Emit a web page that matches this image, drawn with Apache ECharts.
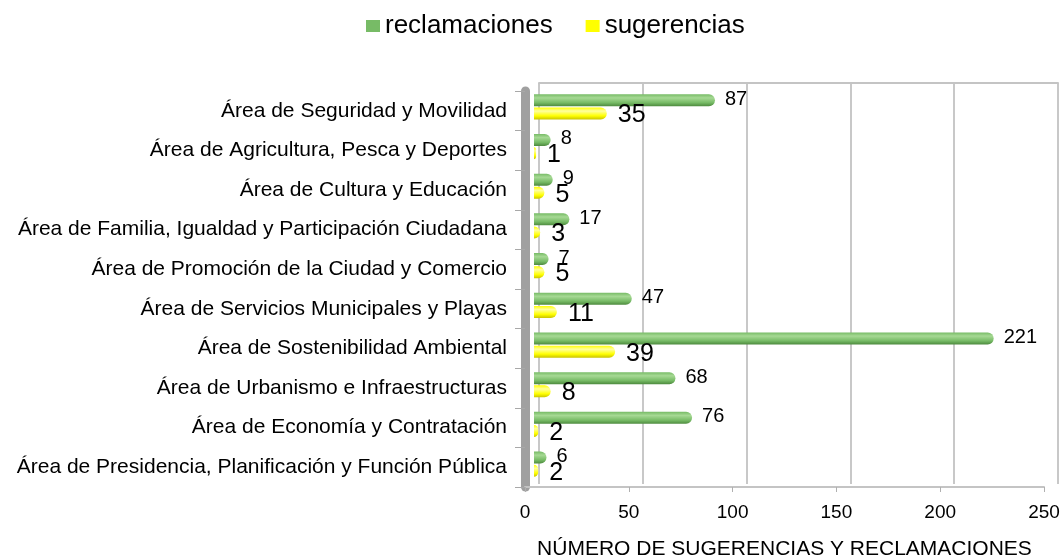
<!DOCTYPE html>
<html>
<head>
<meta charset="utf-8">
<script src="https://cdn.jsdelivr.net/npm/echarts@6/dist/echarts.min.js"></script>
<style>
  html, body { margin: 0; padding: 0; background: #fff; }
  #chart { width: 1064px; height: 555px; }
</style>
</head>
<body>
<div id="chart"></div>
<script>
// categorías de arriba a abajo
const areas = [
  'Área de Seguridad y Movilidad',
  'Área de Agricultura, Pesca y Deportes',
  'Área de Cultura y Educación',
  'Área de Familia, Igualdad y Participación Ciudadana',
  'Área de Promoción de la Ciudad y Comercio',
  'Área de Servicios Municipales y Playas',
  'Área de Sostenibilidad Ambiental',
  'Área de Urbanismo e Infraestructuras',
  'Área de Economía y Contratación',
  'Área de Presidencia, Planificación y Función Pública'
];
const reclamaciones = [87, 8, 9, 17, 7, 47, 221, 68, 76, 6];
const sugerencias = [35, 1, 5, 3, 5, 11, 39, 8, 2, 2];
const xTicks = [0, 50, 100, 150, 200, 250];

const FONT = '"Liberation Sans", Arial, sans-serif';
const xMin = xTicks[0], xMax = xTicks[xTicks.length - 1];

// degradado vertical para simular el cilindro
function cyl(light, mid, dark) {
  return new echarts.graphic.LinearGradient(0, 0, 0, 1, [
    { offset: 0, color: mid },
    { offset: 0.3, color: light },
    { offset: 0.7, color: mid },
    { offset: 1, color: dark }
  ]);
}

const chart = echarts.init(document.getElementById('chart'));
chart.setOption({
  animation: false,
  textStyle: { fontFamily: FONT },
  legend: {
    top: 8,
    left: 361,
    itemWidth: 14,
    itemHeight: 12,
    itemGap: 33,
    icon: 'rect',
    textStyle: { fontSize: 26, color: '#000', fontFamily: FONT },
    data: [
      { name: 'reclamaciones', itemStyle: { color: '#77bb66' } },
      { name: 'sugerencias', itemStyle: { color: '#ffff00' } }
    ]
  },
  // 0: frente (etiquetas y suelo), 1: pared del fondo (rejilla), 2: barras
  grid: [
    { left: 525, right: 20, top: 91, bottom: 68, outerBoundsMode: 'none' },
    { left: 539, right: 6, top: 83, bottom: 71, outerBoundsMode: 'none' },
    { left: 534, right: 10, top: 87, bottom: 71, outerBoundsMode: 'none' }
  ],
  xAxis: [
    {
      gridIndex: 0,
      type: 'value',
      min: xMin, max: xMax, interval: 50,
      name: 'NÚMERO DE SUGERENCIAS Y RECLAMACIONES',
      nameLocation: 'middle',
      nameGap: 52,
      nameTextStyle: { fontSize: 21, color: '#000', fontFamily: FONT },
      axisLine: { show: true, lineStyle: { color: '#c4c4c4', width: 2 } },
      axisTick: { show: true, length: 5, lineStyle: { color: '#b0b0b0' } },
      axisLabel: { fontSize: 19, color: '#000', margin: 16, fontFamily: FONT },
      splitLine: { show: false }
    },
    {
      gridIndex: 1,
      type: 'value',
      position: 'top',
      min: xMin, max: xMax, interval: 50,
      axisLine: { show: true, lineStyle: { color: '#c4c4c4', width: 2 } },
      axisTick: { show: false },
      axisLabel: { show: false },
      splitLine: { show: true, lineStyle: { color: '#c8c8c8', width: 2 } }
    },
    {
      gridIndex: 2,
      type: 'value',
      min: xMin, max: xMax,
      show: false,
      splitLine: { show: false }
    }
  ],
  yAxis: [
    {
      gridIndex: 0,
      type: 'category',
      inverse: true,
      data: areas,
      axisLine: { show: true, lineStyle: { color: '#a0a0a0', width: 9 } },
      axisTick: { show: true, length: 10, lineStyle: { color: '#a8a8a8' } },
      axisLabel: { fontSize: 21, color: '#000', margin: 18, fontFamily: FONT }
    },
    {
      gridIndex: 1,
      type: 'category',
      inverse: true,
      data: areas,
      show: false
    },
    {
      gridIndex: 2,
      type: 'category',
      inverse: true,
      data: areas,
      show: false
    }
  ],
  series: [
    {
      name: 'reclamaciones',
      type: 'bar',
      xAxisIndex: 2,
      yAxisIndex: 2,
      data: reclamaciones,
      barWidth: 12,
      barGap: '10%',
      itemStyle: {
        color: cyl('#a6d994', '#77bb66', '#4d8a3e'),
        borderRadius: [0, 6, 6, 0]
      },
      label: {
        show: true,
        position: 'right',
        distance: 10,
        offset: [0, -1],
        fontSize: 20,
        color: '#000',
        fontFamily: FONT
      }
    },
    {
      name: 'sugerencias',
      type: 'bar',
      xAxisIndex: 2,
      yAxisIndex: 2,
      data: sugerencias,
      barWidth: 12,
      itemStyle: {
        color: cyl('#ffffa0', '#ffff00', '#c9c400'),
        borderRadius: [0, 6, 6, 0]
      },
      label: {
        show: true,
        position: 'right',
        distance: 11,
        offset: [0, 2],
        fontSize: 25,
        color: '#000',
        fontFamily: FONT
      }
    }
  ]
});
</script>
</body>
</html>
